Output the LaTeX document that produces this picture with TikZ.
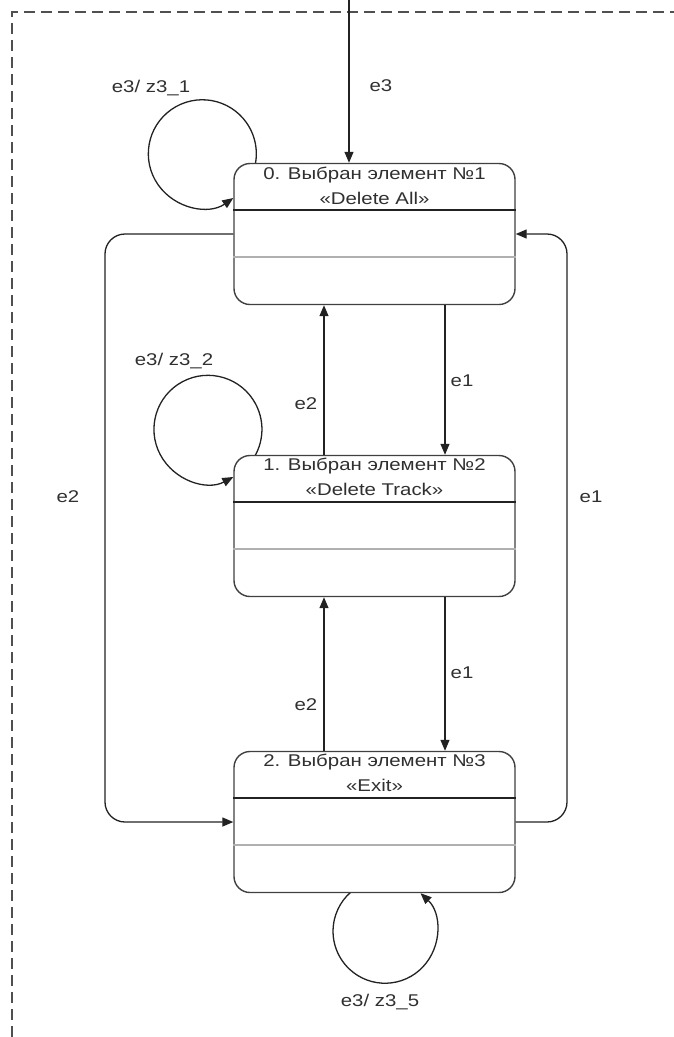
\documentclass[tikz,border=0pt]{standalone}
\usepackage{fontspec}
\setmainfont{Liberation Sans}[FakeStretch=1.2]
\usetikzlibrary{arrows.meta,backgrounds}
\definecolor{txt}{HTML}{303030}
\definecolor{linec}{HTML}{222222}
\definecolor{boxc}{HTML}{404040}
\definecolor{grayline}{HTML}{B0B0B0}
\definecolor{borderc}{HTML}{505050}
\begin{document}
\begin{tikzpicture}[x=1pt,y=-1pt,
  every node/.style={font=\fontsize{17}{25}\selectfont, text=txt},
  statebox/.style={draw=boxc, line width=1.4pt, fill=white, rounded corners=16pt,
    minimum width=281pt, minimum height=141pt, inner sep=0pt},
  title/.style={align=center, inner sep=0pt},
  divider/.style={draw=linec, line width=1.8pt},
  divgray/.style={draw=grayline, line width=2pt},
  conn/.style={draw=linec, line width=1.3pt, -{Triangle[length=11pt,width=9pt]}},
  loopc/.style={draw=linec, line width=1.3pt, {Triangle[length=11pt,width=9pt]}-},
  lbl/.style={inner sep=1pt},
  border/.style={draw=borderc, line width=1.4pt, dash pattern=on 11pt off 6pt}]
\useasboundingbox (0,0) rectangle (674,1037);

% dashed frame
\coordinate (b1) at (12,1037);
\coordinate (b2) at (12,12);
\coordinate (b3) at (674,12);
\draw[border] (b1) -- (b2) -- (b3);

% states
\node[statebox] (s0) at (374.5,234) {};
\node[statebox] (s1) at (374.5,526) {};
\node[statebox] (s2) at (374.5,822) {};

\foreach \s in {s0,s1,s2}{
  \draw[divider] ([yshift=-47pt]\s.north west) -- ([yshift=-47pt]\s.north east);
  \draw[divgray] ([yshift=-94pt]\s.north west) -- ([yshift=-94pt]\s.north east);
}

\node[title] (t0) at ([yshift=-23pt]s0.north) {0. Выбран элемент №1\\«Delete All»};
\node[title] (t1) at ([yshift=-22pt]s1.north) {1. Выбран элемент №2\\«Delete Track»};
\node[title] (t2) at ([yshift=-22pt]s2.north) {2. Выбран элемент №3\\«Exit»};

% self loops
\begin{scope}[on background layer]
\draw[loopc] ([yshift=36pt]s0.west) arc[start angle=-55, end angle=-380, radius=54pt];
\draw[loopc] ([yshift=49pt]s1.west) arc[start angle=-62, end angle=-400, radius=54pt];
\draw[loopc] ([xshift=46pt]s2.south) arc[start angle=47, end angle=-240, radius=52pt];
\end{scope}

% initial arrow
\coordinate (init) at (349,0);
\draw[conn] (init) -- (init |- s0.north);

% vertical transitions
\draw[conn] ([xshift=70.5pt]s0.south) -- ([xshift=70.5pt]s1.north);
\draw[conn] ([xshift=-50.5pt]s1.north) -- ([xshift=-50.5pt]s0.south);
\draw[conn] ([xshift=70.5pt]s1.south) -- ([xshift=70.5pt]s2.north);
\draw[conn] ([xshift=-50.5pt]s2.north) -- ([xshift=-50.5pt]s1.south);

% side transitions
\coordinate (lc) at (105,0);
\coordinate (rc) at (567,0);
\draw[conn, rounded corners=20pt] (s0.west) -- (s0.west -| lc) -- (s2.west -| lc) -- (s2.west);
\draw[conn, rounded corners=20pt] (s2.east) -- (s2.east -| rc) -- (s0.east -| rc) -- (s0.east);

% labels
\node[lbl] (l0) at (381,86) {e3};
\node[lbl] (l1) at (151,88) {e3/ z3\_1};
\node[lbl] (l2) at (174,361) {e3/ z3\_2};
\node[lbl] (l3) at (306,404) {e2};
\node[lbl] (l4) at (462,381) {e1};
\node[lbl] (l5) at (68,497) {e2};
\node[lbl] (l6) at (591,497) {e1};
\node[lbl] (l7) at (306,705) {e2};
\node[lbl] (l8) at (462,673) {e1};
\node[lbl] (l9) at (380,1002) {e3/ z3\_5};
\end{tikzpicture}
\end{document}
